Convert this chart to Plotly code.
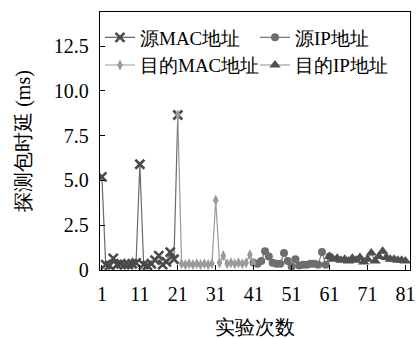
import plotly.graph_objects as go

# trial numbers (categories) for each probe type
src_mac_x = [1, 2, 3, 4, 5, 6, 7, 8, 9, 10, 11, 12, 13, 14, 15, 16, 17, 18, 19, 20, 21]
dst_mac_x = [21, 22, 23, 24, 25, 26, 27, 28, 29, 30, 31, 32, 33, 34, 35, 36, 37, 38, 39, 40, 41]
src_ip_x = [41, 42, 43, 44, 45, 46, 47, 48, 49, 50, 51, 52, 53, 54, 55, 56, 57, 58, 59, 60, 61]
dst_ip_x = [61, 62, 63, 64, 65, 66, 67, 68, 69, 70, 71, 72, 73, 74, 75, 76, 77, 78, 79, 80, 81]

# probe latency (ms)
src_mac = [5.2, 0.3, 0.25, 0.65, 0.3, 0.35, 0.3, 0.3, 0.35, 0.4, 5.9, 0.3, 0.25, 0.35, 0.55, 0.8, 0.3, 0.45, 1.0, 0.6, 8.65]
dst_mac = [8.65, 0.35, 0.3, 0.35, 0.3, 0.35, 0.3, 0.35, 0.3, 0.35, 3.9, 0.4, 0.8, 0.35, 0.4, 0.35, 0.4, 0.35, 0.4, 0.85, 0.4]
src_ip = [0.4, 0.35, 0.5, 1.05, 0.75, 0.4, 0.35, 0.35, 0.95, 0.5, 0.2, 0.6, 0.25, 0.3, 0.3, 0.35, 0.35, 0.3, 1.0, 0.3, 0.75]
dst_ip = [0.75, 0.6, 0.65, 0.55, 0.6, 0.5, 0.65, 0.55, 0.7, 0.45, 0.6, 0.95, 0.5, 0.75, 1.05, 0.7, 0.6, 0.6, 0.55, 0.55, 0.5]

names = ["源MAC地址", "源IP地址", "目的MAC地址", "目的IP地址"]
x_ticks = [1, 11, 21, 31, 41, 51, 61, 71, 81]
y_ticks = [0, 2.5, 5.0, 7.5, 10.0, 12.5]
y_tick_text = ["0", "2.5", "5.0", "7.5", "10.0", "12.5"]

FONT = "Liberation Serif, DejaVu Serif, serif"

fig = go.Figure()
fig.add_trace(go.Scatter(x=src_mac_x, y=src_mac, name=names[0], mode="lines+markers",
                         line=dict(color="#6a6a6a", width=1.2),
                         marker=dict(symbol="x-thin", size=9, line=dict(color="#4a4a4a", width=2.6))))
fig.add_trace(go.Scatter(x=src_ip_x, y=src_ip, name=names[1], mode="lines+markers",
                         line=dict(color="#777777", width=1.2),
                         marker=dict(symbol="circle", size=8, color="#6e6e6e")))
fig.add_trace(go.Scatter(x=dst_mac_x, y=dst_mac, name=names[2], mode="lines+markers",
                         line=dict(color="#9a9a9a", width=1.2),
                         marker=dict(symbol="diamond-tall", size=8, color="#9a9a9a")))
fig.add_trace(go.Scatter(x=dst_ip_x, y=dst_ip, name=names[3], mode="lines+markers",
                         line=dict(color="#8a8a8a", width=1.2),
                         marker=dict(symbol="triangle-up", size=10, color="#505050")))

fig.update_layout(
    width=420, height=338,
    margin=dict(l=100, r=10, t=12, b=68, autoexpand=False),
    paper_bgcolor="white", plot_bgcolor="white",
    font=dict(family=FONT, size=20, color="black"),
    showlegend=True,
    legend=dict(orientation="h", x=0, y=0.975, xanchor="left", yanchor="top",
                entrywidth=110, entrywidthmode="pixels", itemwidth=30,
                bgcolor="rgba(0,0,0,0)", font=dict(size=19, family=FONT),
                tracegroupgap=0, traceorder="normal"),
    xaxis=dict(range=[0.5, 82.2], tickmode="array", tickvals=x_ticks,
               ticks="inside", ticklen=5, tickcolor="black", tickwidth=1.2,
               ticklabelstandoff=6, automargin=False,
               showline=True, linecolor="black", linewidth=1.3, mirror=True,
               showgrid=False, zeroline=False,
               title=dict(text="实验次数", font=dict(size=20), standoff=16)),
    yaxis=dict(range=[0, 14.4], tickmode="array", tickvals=y_ticks, ticktext=y_tick_text,
               ticks="inside", ticklen=5, tickcolor="black", tickwidth=1.2,
               ticklabelstandoff=6, automargin=False,
               showline=True, linecolor="black", linewidth=1.3, mirror=True,
               showgrid=False, zeroline=False,
               title=dict(text="探测包时延 (ms)", font=dict(size=20), standoff=17)),
)

fig.write_html("out.html")
